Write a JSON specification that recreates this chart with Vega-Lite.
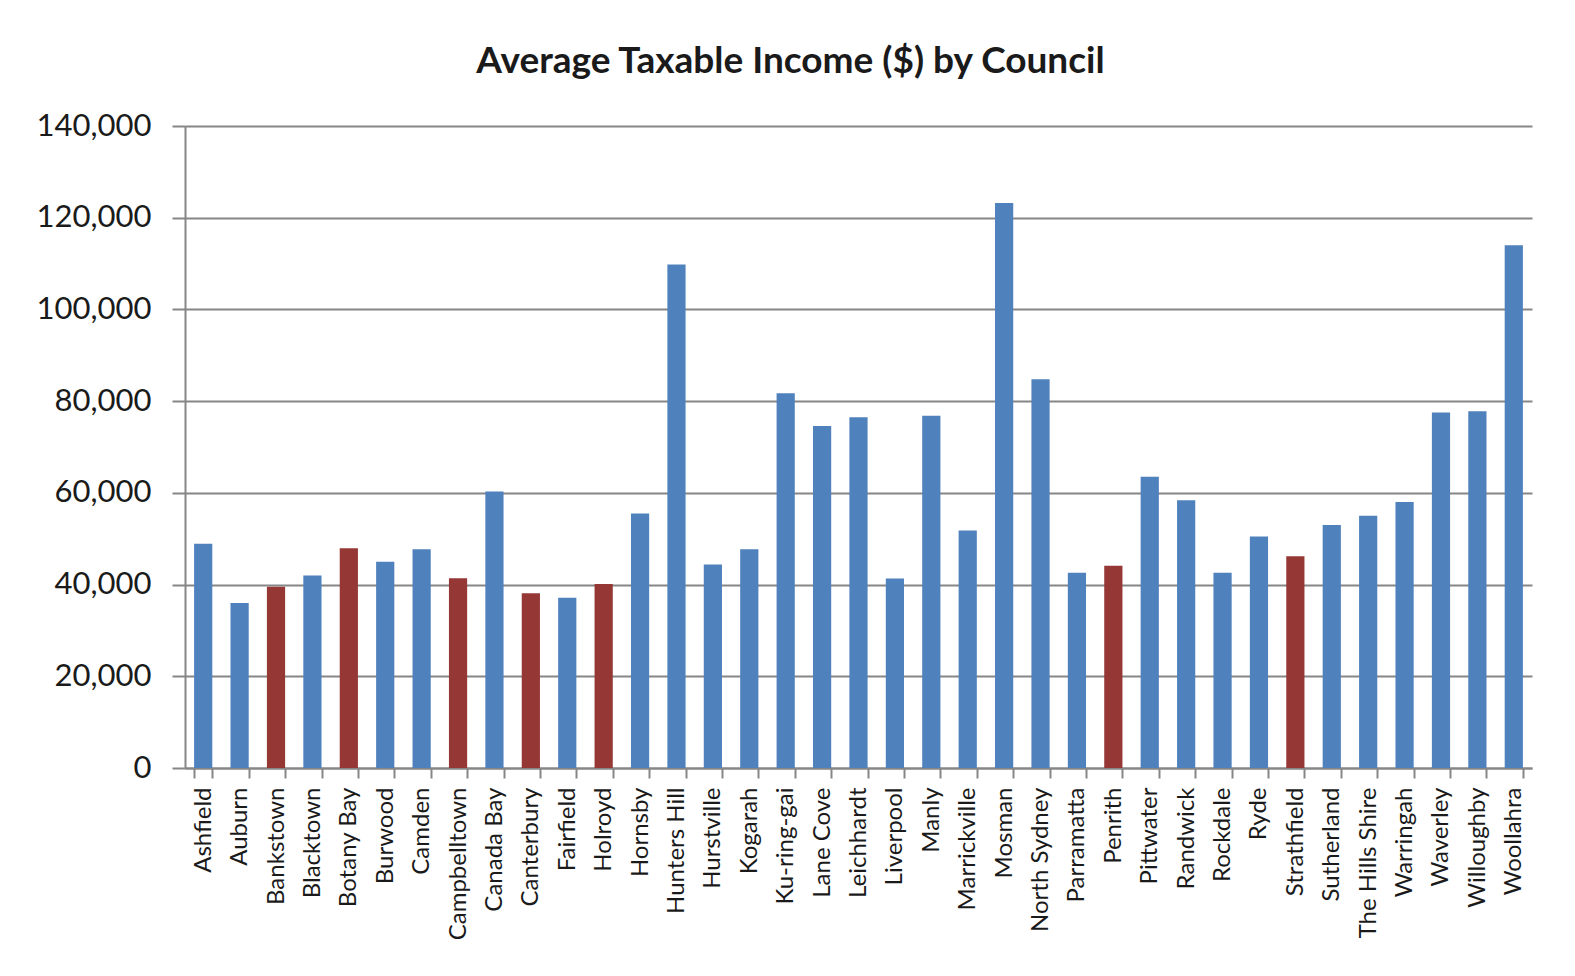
{
  "$schema": "https://vega.github.io/schema/vega-lite/v6.json",
  "autosize": "none",
  "width": 1347,
  "height": 642,
  "padding": {"left": 185, "top": 126, "right": 43, "bottom": 208},
  "background": "white",
  "title": {
    "text": "Average Taxable Income ($) by Council",
    "font": "Lato",
    "fontSize": 37,
    "fontWeight": "bold",
    "color": "#1a1a1a",
    "anchor": "middle",
    "offset": 29,
    "dx": -68
  },
  "data": {
    "values": [
      {"council": "Ashfield", "income": 48900, "group": "other"},
      {"council": "Auburn", "income": 36000, "group": "other"},
      {"council": "Bankstown", "income": 39500, "group": "highlight"},
      {"council": "Blacktown", "income": 42000, "group": "other"},
      {"council": "Botany Bay", "income": 47900, "group": "highlight"},
      {"council": "Burwood", "income": 45000, "group": "other"},
      {"council": "Camden", "income": 47700, "group": "other"},
      {"council": "Campbelltown", "income": 41400, "group": "highlight"},
      {"council": "Canada Bay", "income": 60300, "group": "other"},
      {"council": "Canterbury", "income": 38100, "group": "highlight"},
      {"council": "Fairfield", "income": 37100, "group": "other"},
      {"council": "Holroyd", "income": 40100, "group": "highlight"},
      {"council": "Hornsby", "income": 55500, "group": "other"},
      {"council": "Hunters Hill", "income": 109800, "group": "other"},
      {"council": "Hurstville", "income": 44400, "group": "other"},
      {"council": "Kogarah", "income": 47700, "group": "other"},
      {"council": "Ku-ring-gai", "income": 81700, "group": "other"},
      {"council": "Lane Cove", "income": 74600, "group": "other"},
      {"council": "Leichhardt", "income": 76500, "group": "other"},
      {"council": "Liverpool", "income": 41300, "group": "other"},
      {"council": "Manly", "income": 76800, "group": "other"},
      {"council": "Marrickville", "income": 51800, "group": "other"},
      {"council": "Mosman", "income": 123200, "group": "other"},
      {"council": "North Sydney", "income": 84800, "group": "other"},
      {"council": "Parramatta", "income": 42600, "group": "other"},
      {"council": "Penrith", "income": 44100, "group": "highlight"},
      {"council": "Pittwater", "income": 63500, "group": "other"},
      {"council": "Randwick", "income": 58400, "group": "other"},
      {"council": "Rockdale", "income": 42600, "group": "other"},
      {"council": "Ryde", "income": 50500, "group": "other"},
      {"council": "Strathfield", "income": 46200, "group": "highlight"},
      {"council": "Sutherland", "income": 53000, "group": "other"},
      {"council": "The Hills Shire", "income": 55000, "group": "other"},
      {"council": "Warringah", "income": 58000, "group": "other"},
      {"council": "Waverley", "income": 77500, "group": "other"},
      {"council": "Willoughby", "income": 77800, "group": "other"},
      {"council": "Woollahra", "income": 114000, "group": "other"}
    ]
  },
  "mark": {"type": "bar"},
  "encoding": {
    "x": {
      "field": "council",
      "type": "nominal",
      "sort": null,
      "scale": {"paddingInner": 0.5, "paddingOuter": 0.25},
      "axis": {
        "title": null,
        "labelAngle": -90,
        "labelAlign": "right",
        "labelBaseline": "middle",
        "labelFont": "Lato",
        "labelFontSize": 24,
        "labelColor": "#1a1a1a",
        "labelPadding": 9,
        "domainColor": "#868686",
        "domainWidth": 2,
        "tickColor": "#868686",
        "tickWidth": 2,
        "tickSize": 10,
        "tickBand": "extent",
        "grid": false
      }
    },
    "y": {
      "field": "income",
      "type": "quantitative",
      "scale": {"domain": [0, 140000], "nice": false},
      "axis": {
        "title": null,
        "values": [0, 20000, 40000, 60000, 80000, 100000, 120000, 140000],
        "format": ",d",
        "labelFont": "Lato",
        "labelFontSize": 31,
        "labelColor": "#1a1a1a",
        "labelPadding": 21,
        "domainColor": "#868686",
        "domainWidth": 2,
        "tickColor": "#868686",
        "tickWidth": 2,
        "tickSize": 13,
        "grid": true,
        "gridColor": "#868686",
        "gridWidth": 2,
        "gridOpacity": 1
      }
    },
    "color": {
      "field": "group",
      "type": "nominal",
      "scale": {"domain": ["other", "highlight"], "range": ["#4F81BD", "#953735"]},
      "legend": null
    }
  },
  "config": {
    "view": {"stroke": null}
  }
}
